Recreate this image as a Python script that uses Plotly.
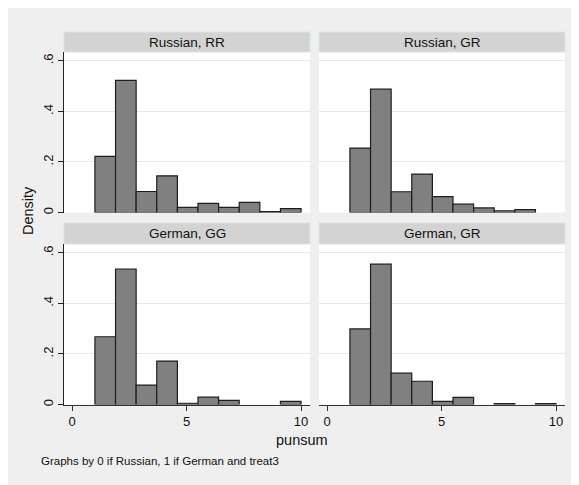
import plotly.graph_objects as go

# ---- data ----
bin_edges = [1.0, 1.9, 2.8, 3.7, 4.6, 5.5, 6.4, 7.3, 8.2, 9.1, 10.0]
panel_titles = ["Russian, RR", "Russian, GR", "German, GG", "German, GR"]
dens_russian_rr = [0.222, 0.523, 0.083, 0.145, 0.020, 0.036, 0.020, 0.040, 0.004, 0.015]
dens_russian_gr = [0.255, 0.488, 0.082, 0.152, 0.063, 0.033, 0.018, 0.007, 0.011, 0.0]
dens_german_gg = [0.268, 0.536, 0.077, 0.172, 0.005, 0.029, 0.016, 0.0, 0.0, 0.012]
dens_german_gr = [0.299, 0.555, 0.124, 0.092, 0.012, 0.028, 0.0, 0.004, 0.0, 0.004]
x_ticks = [0, 5, 10]
y_ticks = [0, 0.2, 0.4, 0.6]
y_ticklabels = ["0", ".2", ".4", ".6"]

# the page body has an 8px margin; figure fills the rest of the window
OFF = 8
W, H = 571, 477
FONT = "Liberation Sans, Arial, Helvetica, sans-serif"

centers = [(a + b) / 2 for a, b in zip(bin_edges[:-1], bin_edges[1:])]
widths = [b - a for a, b in zip(bin_edges[:-1], bin_edges[1:])]

def px_x(p):
    return (p - OFF) / W

def px_y(p):
    return 1 - (p - OFF) / H

# panel pixel boxes in window coordinates
cols = [(64, 310), (319, 565)]
rows = [(32, 52, 212.5), (223, 244, 404.5)]

fig = go.Figure()
series = [dens_russian_rr, dens_russian_gr, dens_german_gg, dens_german_gr]
shapes = []
annotations = []

for i, vals in enumerate(series):
    r, c = divmod(i, 2)
    k = "" if i == 0 else str(i + 1)
    ys = [v if v > 0 else None for v in vals]
    fig.add_trace(go.Bar(x=centers, y=ys, width=widths,
                         marker=dict(color="#808080", line=dict(color="#1e1e1e", width=1.2)),
                         xaxis="x" + k, yaxis="y" + k, showlegend=False,
                         hoverinfo="x+y"))
    l, rr_ = cols[c]
    ht, pt, pb = rows[r]
    bottom = r == 1
    left = c == 0
    fig.layout["xaxis" + k] = dict(
        domain=[px_x(l), px_x(rr_)], range=[-0.35, 10.39], anchor="y" + k,
        showgrid=False, zeroline=False,
        showline=bottom, linecolor="#333333", linewidth=1,
        ticks="outside" if bottom else "", ticklen=5, tickcolor="#333333",
        tickvals=x_ticks, showticklabels=bottom,
        tickfont=dict(size=13, color="#111111", family=FONT),
        automargin=False, fixedrange=True)
    fig.layout["yaxis" + k] = dict(
        domain=[px_y(pb), px_y(pt)], range=[0, 0.635], anchor="x" + k,
        showgrid=True, gridcolor="#e8e8e8", gridwidth=1, zeroline=False,
        showline=left, linecolor="#222222", linewidth=1,
        ticks="outside" if left else "", ticklen=5, tickcolor="#222222",
        tickvals=y_ticks, ticktext=y_ticklabels, showticklabels=left,
        tickangle=-90, tickfont=dict(size=13, color="#111111", family=FONT),
        automargin=False, fixedrange=True)
    # header strip
    shapes.append(dict(type="rect", xref="paper", yref="paper",
                       x0=px_x(l), x1=px_x(rr_), y0=px_y(pt), y1=px_y(ht),
                       fillcolor="#d3d3d3", line=dict(color="#d9e4ea", width=1)))
    annotations.append(dict(text=panel_titles[i], xref="paper", yref="paper",
                            x=px_x((l + rr_) / 2), y=px_y((ht + pt) / 2),
                            xanchor="center", yanchor="middle", showarrow=False,
                            font=dict(size=13.5, color="#111111", family=FONT)))

annotations.append(dict(text="punsum", xref="paper", yref="paper",
                        x=px_x(302), y=px_y(440), xanchor="center", yanchor="middle",
                        showarrow=False, font=dict(size=14.5, color="#111111", family=FONT)))
annotations.append(dict(text="Density", xref="paper", yref="paper", textangle=-90,
                        x=px_x(28), y=px_y(211), xanchor="center", yanchor="middle",
                        showarrow=False, font=dict(size=14.5, color="#111111", family=FONT)))
annotations.append(dict(text="Graphs by 0 if Russian, 1 if German and treat3",
                        xref="paper", yref="paper", x=px_x(39), y=px_y(461),
                        xanchor="left", yanchor="middle", showarrow=False,
                        font=dict(size=11.5, color="#111111", family=FONT)))

fig.update_layout(width=W, height=H, margin=dict(l=0, r=0, t=0, b=0),
                  paper_bgcolor="#efefef", plot_bgcolor="white",
                  shapes=shapes, annotations=annotations, template="none",
                  barmode="overlay", font=dict(family=FONT))

fig.write_html("out.html")
